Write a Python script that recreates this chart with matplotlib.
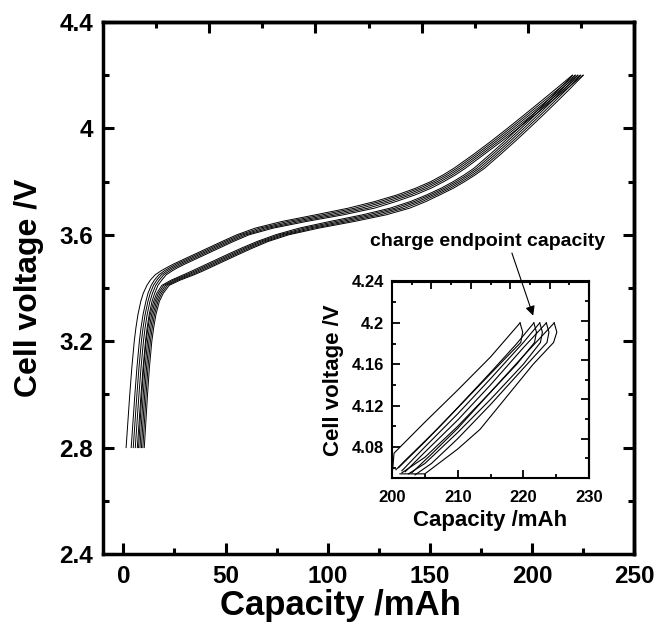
import matplotlib
matplotlib.use("Agg")
import matplotlib.pyplot as plt
from matplotlib.ticker import FixedLocator, FixedFormatter

plt.rcParams['font.family'] = ['Liberation Sans', 'DejaVu Sans']
plt.rcParams['font.weight'] = 'bold'

# ---------------- main chart data (charge curves) ----------------
voltage_levels = [2.80, 2.90, 3.00, 3.10, 3.20, 3.25, 3.30, 3.35, 3.38, 3.41,
                  3.43, 3.45, 3.465, 3.475, 3.49, 3.50, 3.525, 3.55, 3.575, 3.60,
                  3.625, 3.65, 3.675, 3.70, 3.725, 3.75, 3.775, 3.80, 3.825, 3.85,
                  3.90, 3.95, 4.00, 4.05, 4.10, 4.15, 4.20]

cap_U1 = [1.3, 2.2, 3.1, 4.1, 5.3, 6.1, 7.1, 8.5, 9.7, 11.5, 13.2, 15.6, 18.5, 20.8, 24.5,
          27.3, 34.3, 41.3, 48.3, 55.5, 64.5, 77.5, 94.0, 110.0, 123.0, 134.0, 143.0, 150.5,
          156.5, 161.8, 171.0, 179.7, 188.0, 196.1, 204.1, 212.0, 219.8]
cap_U2 = [3.8, 4.7, 5.6, 6.6, 7.8, 8.6, 9.6, 11.0, 12.0, 13.6, 15.2, 17.4, 20.1, 22.3, 25.9,
          28.7, 35.7, 42.7, 49.7, 57.0, 66.7, 80.5, 97.4, 113.2, 125.6, 136.2, 144.9, 152.1,
          158.0, 163.2, 172.3, 181.0, 189.3, 197.4, 205.4, 213.3, 221.1]
cap_U3 = [4.8, 5.7, 6.6, 7.6, 8.8, 9.6, 10.6, 12.0, 13.1, 14.7, 16.4, 18.6, 21.4, 23.6, 27.3,
          30.1, 37.1, 44.1, 51.1, 58.5, 68.9, 83.5, 100.8, 116.4, 128.2, 138.4, 146.8, 153.7,
          159.5, 164.6, 173.6, 182.3, 190.6, 198.7, 206.7, 214.6, 222.4]
cap_U4 = [5.8, 6.7, 7.6, 8.6, 9.8, 10.6, 11.6, 13.0, 14.2, 15.8, 17.6, 19.8, 22.7, 24.9, 28.7,
          31.5, 38.5, 45.5, 52.5, 60.0, 71.1, 86.5, 104.2, 119.6, 130.8, 140.6, 148.7, 155.3,
          161.0, 166.0, 174.9, 183.6, 191.9, 200.0, 208.0, 215.9, 223.7]
cap_U5 = [6.8, 7.7, 8.6, 9.6, 10.8, 11.6, 12.6, 14.0, 15.3, 16.9, 18.8, 21.0, 24.0, 26.2, 30.1,
          32.9, 39.9, 46.9, 53.9, 61.5, 73.3, 89.5, 107.6, 122.8, 133.4, 142.8, 150.6, 156.9,
          162.5, 167.4, 176.2, 184.9, 193.2, 201.3, 209.3, 217.2, 225.0]
cap_L1 = [7.4, 8.2, 9.0, 9.9, 11.1, 12.0, 13.1, 14.8, 16.3, 18.8, 23.5, 29.5, 33.8, 36.6, 40.8,
          43.6, 50.6, 57.8, 65.5, 74.5, 86.0, 101.0, 117.0, 130.5, 140.5, 148.5, 155.5, 161.5,
          166.8, 171.6, 179.1, 186.4, 193.4, 200.3, 207.0, 213.6, 220.0]
cap_L2 = [8.1, 8.9, 9.7, 10.6, 11.8, 12.7, 13.8, 15.5, 17.1, 19.7, 24.6, 30.8, 35.2, 38.0, 42.2,
          45.0, 52.0, 59.2, 66.9, 76.1, 88.4, 104.0, 119.9, 132.9, 142.4, 150.1, 157.0, 162.9,
          168.2, 172.9, 180.4, 187.7, 194.7, 201.6, 208.3, 214.9, 221.3]
cap_L3 = [8.8, 9.6, 10.4, 11.3, 12.5, 13.4, 14.5, 16.2, 17.9, 20.6, 25.7, 32.1, 36.5, 39.3, 43.6,
          46.3, 53.4, 60.5, 68.2, 77.7, 90.8, 107.0, 122.8, 135.3, 144.3, 151.7, 158.5, 164.3,
          169.5, 174.2, 181.7, 189.0, 196.0, 202.9, 209.6, 216.2, 222.6]
cap_L4 = [9.5, 10.3, 11.1, 12.0, 13.2, 14.1, 15.2, 16.9, 18.7, 21.5, 26.8, 33.4, 37.9, 40.7, 44.9,
          47.7, 54.7, 61.9, 69.6, 79.3, 93.2, 110.0, 125.7, 137.7, 146.2, 153.3, 160.0, 165.7,
          170.9, 175.5, 183.0, 190.3, 197.3, 204.2, 210.9, 217.5, 223.9]
cap_L5 = [10.2, 11.0, 11.8, 12.7, 13.9, 14.8, 15.9, 17.6, 19.5, 22.4, 27.9, 34.7, 39.2, 42.0, 46.2,
          49.0, 56.0, 63.2, 70.9, 80.9, 95.6, 113.0, 128.6, 140.1, 148.1, 154.9, 161.5, 167.1,
          172.2, 176.8, 184.3, 191.6, 198.6, 205.5, 212.2, 218.8, 225.2]

main_curves = [cap_U1, cap_U2, cap_U3, cap_U4, cap_U5, cap_L1, cap_L2, cap_L3, cap_L4, cap_L5]

main_xticks = [0, 50, 100, 150, 200, 250]
main_xminor = [25, 75, 125, 175, 225]
main_yticks = [2.4, 2.8, 3.2, 3.6, 4.0, 4.4]
main_ylabels = ["2.4", "2.8", "3.2", "3.6", "4", "4.4"]
main_yminor = [2.6, 3.0, 3.4, 3.8, 4.2]

# ---------------- inset data (near charge endpoint) ----------------
rise1_c = [200.1, 200.3, 205.0, 210.0, 215.0, 219.5]
rise1_v = [4.058, 4.074, 4.104, 4.135, 4.167, 4.200]
ret1_c = [219.5, 219.9, 219.6, 217.0, 212.0, 207.0, 202.0, 200.6]
ret1_v = [4.200, 4.191, 4.181, 4.164, 4.131, 4.098, 4.067, 4.058]
rise2_c = [201.0, 205.0, 210.0, 215.0, 219.0, 221.6]
rise2_v = [4.060, 4.085, 4.118, 4.152, 4.180, 4.200]
ret2_c = [221.6, 222.0, 221.7, 219.0, 215.0, 210.0, 205.0, 201.5]
ret2_v = [4.200, 4.191, 4.181, 4.160, 4.133, 4.100, 4.070, 4.055]
rise3_c = [201.5, 205.0, 210.0, 215.0, 220.0, 222.5]
rise3_v = [4.057, 4.080, 4.112, 4.146, 4.181, 4.200]
ret3_c = [222.5, 222.9, 222.6, 220.0, 215.0, 210.0, 205.0, 202.5]
ret3_v = [4.200, 4.191, 4.181, 4.160, 4.126, 4.094, 4.064, 4.054]
rise4_c = [202.0, 205.0, 210.0, 215.0, 220.0, 223.5]
rise4_v = [4.056, 4.075, 4.106, 4.140, 4.176, 4.200]
ret4_c = [223.5, 223.9, 223.6, 220.0, 215.0, 210.0, 206.0, 203.5]
ret4_v = [4.200, 4.191, 4.181, 4.156, 4.121, 4.088, 4.064, 4.053]
rise5_c = [203.0, 206.0, 210.0, 215.0, 220.0, 224.7]
rise5_v = [4.055, 4.073, 4.098, 4.133, 4.168, 4.200]
ret5_c = [224.7, 225.1, 224.6, 221.5, 217.0, 213.4, 210.0, 205.0, 201.2]
ret5_v = [4.200, 4.191, 4.181, 4.160, 4.125, 4.097, 4.078, 4.054, 4.054]

inset_lines = [(rise1_c, rise1_v), (ret1_c, ret1_v), (rise2_c, rise2_v), (ret2_c, ret2_v),
               (rise3_c, rise3_v), (ret3_c, ret3_v), (rise4_c, rise4_v), (ret4_c, ret4_v),
               (rise5_c, rise5_v), (ret5_c, ret5_v)]

inset_xticks = [200, 210, 220, 230]
inset_xminor = [205, 215, 225]
inset_yticks = [4.08, 4.12, 4.16, 4.20, 4.24]
inset_ylabels = ["4.08", "4.12", "4.16", "4.2", "4.24"]
inset_yminor = [4.06, 4.10, 4.14, 4.18, 4.22]

# ---------------- figure ----------------
fig = plt.figure(figsize=(6.57, 6.25), dpi=100)
ax = fig.add_axes([0.1568, 0.1136, 0.8082, 0.8512])

for caps in main_curves:
    ax.plot(caps, voltage_levels, color='black', lw=0.7)

ax.set_xlim(-10, 250)
ax.set_ylim(2.4, 4.4)
ax.xaxis.set_major_locator(FixedLocator(main_xticks))
ax.xaxis.set_minor_locator(FixedLocator(main_xminor))
ax.yaxis.set_major_locator(FixedLocator(main_yticks))
ax.yaxis.set_major_formatter(FixedFormatter(main_ylabels))
ax.yaxis.set_minor_locator(FixedLocator(main_yminor))
ax.tick_params(which='both', direction='in', width=2.2, labelsize=17.5)
ax.tick_params(axis='x', pad=8)
ax.tick_params(axis='y', pad=7)
ax.tick_params(which='major', length=8)
ax.tick_params(which='minor', length=4)
for s in ax.spines.values():
    s.set_linewidth(2.5)
ax.set_xlabel("Capacity /mAh", fontsize=25, fontweight='bold')
ax.xaxis.set_label_coords(0.448, -0.066)
ax.set_ylabel("Cell voltage /V", fontsize=23, fontweight='bold')
ax.yaxis.set_label_coords(-0.111, 0.50)

# top / right axes with tick marks dividing the frame into tenths
secx = ax.secondary_xaxis('top', functions=(lambda x: (x + 10) / 26.0, lambda f: f * 26.0 - 10))
secx.xaxis.set_major_locator(FixedLocator([2, 4, 6, 8]))
secx.xaxis.set_minor_locator(FixedLocator([1, 3, 5, 7, 9]))
secx.tick_params(which='both', direction='in', width=2.2, labeltop=False)
secx.tick_params(which='major', length=8)
secx.tick_params(which='minor', length=4)
secx.spines['top'].set_linewidth(2.5)
secy = ax.secondary_yaxis('right', functions=(lambda y: (y - 2.4) / 0.2, lambda f: 2.4 + f * 0.2))
secy.yaxis.set_major_locator(FixedLocator([2, 4, 6, 8]))
secy.yaxis.set_minor_locator(FixedLocator([1, 3, 5, 7, 9]))
secy.tick_params(which='both', direction='in', width=2.2, labelright=False)
secy.tick_params(which='major', length=8)
secy.tick_params(which='minor', length=4)
secy.spines['right'].set_linewidth(2.5)

# ---------------- inset ----------------
axin = fig.add_axes([0.5967, 0.2352, 0.2998, 0.3144])
for c, v in inset_lines:
    axin.plot(c, v, color='black', lw=0.8)
axin.set_xlim(200, 230)
axin.set_ylim(4.05, 4.24)
axin.xaxis.set_major_locator(FixedLocator(inset_xticks))
axin.xaxis.set_minor_locator(FixedLocator(inset_xminor))
axin.yaxis.set_major_locator(FixedLocator(inset_yticks))
axin.yaxis.set_major_formatter(FixedFormatter(inset_ylabels))
axin.yaxis.set_minor_locator(FixedLocator(inset_yminor))
axin.tick_params(which='both', direction='in', width=1.3, labelsize=12)
axin.tick_params(axis='x', pad=9)
axin.tick_params(axis='y', pad=6)
axin.tick_params(which='major', length=6)
axin.tick_params(which='minor', length=3)
for s in axin.spines.values():
    s.set_linewidth(1.5)
axin.set_xlabel("Capacity /mAh", fontsize=16, fontweight='bold', labelpad=3)
axin.set_ylabel("Cell voltage /V", fontsize=16, fontweight='bold', labelpad=5)

isx = axin.secondary_xaxis('top', functions=(lambda x: (x - 200) / 3.0, lambda f: 200 + f * 3.0))
isx.xaxis.set_major_locator(FixedLocator([2, 4, 6, 8]))
isx.xaxis.set_minor_locator(FixedLocator([1, 3, 5, 7, 9]))
isx.tick_params(which='both', direction='in', width=1.3, labeltop=False)
isx.tick_params(which='major', length=6)
isx.tick_params(which='minor', length=3)
isx.spines['top'].set_linewidth(1.5)
isy = axin.secondary_yaxis('right', functions=(lambda y: (y - 4.05) / 0.019, lambda f: 4.05 + f * 0.019))
isy.yaxis.set_major_locator(FixedLocator([2, 4, 6, 8]))
isy.yaxis.set_minor_locator(FixedLocator([1, 3, 5, 7, 9]))
isy.tick_params(which='both', direction='in', width=1.3, labelright=False)
isy.tick_params(which='major', length=6)
isy.tick_params(which='minor', length=3)
isy.spines['right'].set_linewidth(1.5)

axin.annotate("charge endpoint capacity", xy=(221.5, 4.207), xycoords='data',
              xytext=(0.563, 0.606), textcoords='figure fraction',
              fontsize=14, fontweight='bold', ha='left', va='baseline',
              arrowprops=dict(arrowstyle='-|>', color='black', lw=0.8,
                              mutation_scale=14, shrinkA=0, shrinkB=0,
                              relpos=(0.6, 0.0)),
              annotation_clip=False)

fig.savefig("out.png", dpi=100)
